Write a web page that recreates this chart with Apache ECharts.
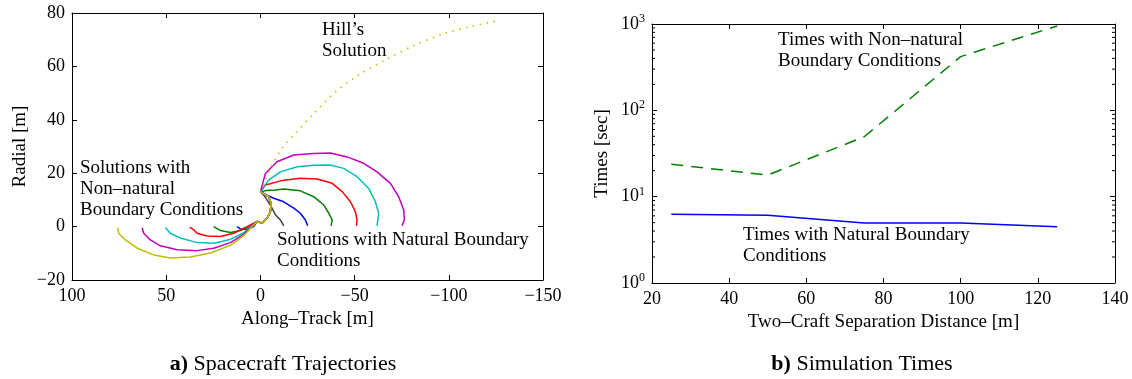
<!DOCTYPE html>
<html>
<head>
<meta charset="utf-8">
<script src="https://cdn.jsdelivr.net/npm/echarts@6/dist/echarts.min.js"></script>
<style>
  html, body { margin: 0; padding: 0; background: #fff; }
  #main { width: 1132px; height: 379px; }
</style>
</head>
<body>
<div id="main"></div>
<script>
// ---- a) trajectories, [along-track, radial] in metres ----
const hill = [[0, 13], [-2.65, 17.4], [-6.2, 23.0], [-11.5, 29.3], [-17.7, 34.3], [-28.3, 42.3], [-40.7, 51.0],
  [-53.1, 57.2], [-67.3, 62.8], [-81.4, 67.8], [-97.3, 72.2], [-111.5, 74.9], [-124.7, 76.9]];

const natGray = [[0, 13], [-1.8, 11.8], [-5.3, 8.1], [-8.0, 4.4], [-10.6, 2.5], [-12.4, 0.3]];
const natBlue = [[0, 13], [-3.5, 11.8], [-7.1, 10.6], [-12.4, 9.3], [-17.7, 6.9], [-21.2, 5.0], [-23.9, 2.5], [-25.1, 0.3]];
const natGreen = [[0, 13], [-3, 13.5], [-8.0, 13.7], [-12.4, 14.1], [-21.2, 13.4], [-28.3, 11.2], [-33.6, 8.1],
  [-36.3, 5.0], [-38.1, 2.5], [-37.5, 0.3]];
const natRed = [[0, 13], [-2.65, 15.6], [-12.4, 17.4], [-21.2, 18.1], [-30.1, 17.8], [-38.1, 16.2], [-43.4, 13.1],
  [-47.8, 9.3], [-50.4, 5.6], [-51.3, 2.5], [-51.0, 0.3]];
const natCyan = [[0, 13], [-4.4, 17.4], [-10.6, 20.5], [-19.5, 22.4], [-28.3, 23.0], [-37.2, 23.1], [-44.2, 21.8],
  [-51.3, 18.7], [-57.5, 14.3], [-61.0, 9.3], [-62.8, 5.0], [-61.9, 0.3]];
const natMagenta = [[0, 13], [-2.65, 19.9], [-8.8, 24.3], [-17.7, 26.8], [-28.3, 27.4], [-37.2, 27.6], [-46.0, 26.1],
  [-54.8, 23.7], [-61.9, 20.5], [-69.0, 16.2], [-73.4, 11.2], [-76.1, 6.2], [-76.4, 2.5], [-75.2, 0.3]];

// non-natural runs all share the same first hook below the start point
const bundle = [[0, 13], [-4.4, 11.2], [-5.7, 8.7], [-5.3, 5.6], [-3.5, 3.1], [-0.9, 1.3], [1.8, 1.9]];
const nonBlue = [[3.6, 0], [7.1, -1.0], [10.6, -0.9], [12.4, 0]];
const nonGreen = [[5.3, 0], [10.6, -1.5], [15.9, -2.2], [21.2, -1.5], [24.8, 0]];
const nonRed = [[7.1, 0], [14.2, -2.5], [21.2, -3.7], [28.3, -3.5], [33.6, -2.5], [35.4, -1.2], [37.5, -0.2]];
const nonCyan = [[8.9, -2.3], [15.9, -4.8], [24.8, -6.2], [33.6, -6.0], [42.5, -4.3], [47.8, -2.5], [50.4, -0.4]];
const nonMagenta = [[8.9, -2.9], [15.9, -6.0], [24.8, -8.1], [33.6, -9.0], [44.2, -8.7], [53.1, -7.2], [58.4, -5.0],
  [61.9, -2.5], [62.8, -0.4]];
const nonYellow = [[8.9, -3.4], [15.9, -7.0], [26.5, -9.9], [37.2, -11.4], [47.8, -11.8], [56.6, -10.6], [65.4, -8.1],
  [71.7, -5.0], [75.2, -2.5], [75.7, -0.4]];

// ---- b) simulation times ----
const distances = [25, 50, 75, 100, 125];
const timesNatural = [6.27, 6.1, 4.97, 4.97, 4.47];
const timesNonNatural = [23.8, 17.8, 49.4, 419, 950];
const minorLogTicks = [2, 3, 4, 5, 6, 7, 8, 9, 20, 30, 40, 50, 60, 70, 80, 90, 200, 300, 400, 500, 600, 700, 800, 900];

const FONT = '"Liberation Serif", "Times New Roman", serif';
const chart = echarts.init(document.getElementById('main'));

function frameAxis(extra) {
  return Object.assign({
    axisLine: { show: true, onZero: false, lineStyle: { color: '#000', width: 1 } },
    axisTick: { show: true, inside: true, length: 5, lineStyle: { color: '#000' } },
    splitLine: { show: false },
    axisLabel: { show: false }
  }, extra);
}
const tickLabel = { show: true, color: '#000', fontFamily: FONT, fontSize: 18, margin: 7,
  formatter: v => String(v).replace('-', '−') };
const nameStyle = { color: '#000', fontFamily: FONT, fontSize: 19 };

function traj(data, color) {
  return { type: 'line', xAxisIndex: 0, yAxisIndex: 0, data: data, showSymbol: false, smooth: false,
    lineStyle: { color: color, width: 1.5 }, silent: true, z: 3 };
}

const xA = { type: 'value', min: -150, max: 100, interval: 50, inverse: true };
const yA = { type: 'value', min: -20, max: 80, interval: 20 };
const xB = { type: 'value', min: 20, max: 140, interval: 20 };
const yB = { type: 'log', logBase: 10, min: 1, max: 1000 };

chart.setOption({
  animation: false,
  backgroundColor: '#fff',
  grid: [
    { left: 72, top: 13, width: 471, height: 267 },
    { left: 652, top: 24, width: 463, height: 259 }
  ],
  xAxis: [
    frameAxis(Object.assign({}, xA, { gridIndex: 0, position: 'bottom', axisLabel: tickLabel,
      name: 'Along–Track [m]', nameLocation: 'middle', nameGap: 26, nameTextStyle: nameStyle })),
    frameAxis(Object.assign({}, xA, { gridIndex: 0, position: 'top' })),
    frameAxis(Object.assign({}, xB, { gridIndex: 1, position: 'bottom', axisLabel: tickLabel,
      name: 'Two–Craft Separation Distance [m]', nameLocation: 'middle', nameGap: 26, nameTextStyle: nameStyle })),
    frameAxis(Object.assign({}, xB, { gridIndex: 1, position: 'top' }))
  ],
  yAxis: [
    frameAxis(Object.assign({}, yA, { gridIndex: 0, position: 'left', axisLabel: tickLabel,
      name: 'Radial [m]', nameLocation: 'middle', nameGap: 42, nameTextStyle: nameStyle })),
    frameAxis(Object.assign({}, yA, { gridIndex: 0, position: 'right' })),
    frameAxis(Object.assign({}, yB, { gridIndex: 1, position: 'left',
      axisLabel: Object.assign({}, tickLabel, {
        formatter: function (v) { return '10{sup|' + Math.round(Math.log10(v)) + '}'; },
        lineHeight: 22,
        rich: { sup: { fontFamily: FONT, fontSize: 12, verticalAlign: 'top', lineHeight: 12, color: '#000' } }
      }),
      name: 'Times [sec]', nameLocation: 'middle', nameGap: 40, nameTextStyle: nameStyle })),
    frameAxis(Object.assign({}, yB, { gridIndex: 1, position: 'right' }))
  ],
  series: [
    { type: 'line', xAxisIndex: 0, yAxisIndex: 0, data: hill, showSymbol: false, smooth: 0.3,
      lineStyle: { color: '#c8c000', width: 1.6, type: [1.5, 5.5] }, silent: true, z: 4 },
    traj(natGray, '#404040'),
    traj(natBlue, '#0000ff'),
    traj(natGreen, '#008000'),
    traj(natRed, '#ff0000'),
    traj(natCyan, '#00bfbf'),
    traj(natMagenta, '#bf00bf'),
    traj(bundle.concat(nonBlue), '#0000ff'),
    traj(bundle.concat(nonGreen), '#008000'),
    traj(bundle.concat(nonRed), '#ff0000'),
    traj(bundle.concat(nonCyan), '#00bfbf'),
    traj(bundle.concat(nonMagenta), '#bf00bf'),
    traj(bundle.concat(nonYellow), '#bfbf00'),
    { type: 'line', xAxisIndex: 2, yAxisIndex: 2, showSymbol: false, silent: true,
      data: distances.map((d, i) => [d, timesNatural[i]]),
      lineStyle: { color: '#0000ff', width: 1.5 } },
    { type: 'line', xAxisIndex: 2, yAxisIndex: 2, showSymbol: false, silent: true,
      data: distances.map((d, i) => [d, timesNonNatural[i]]),
      lineStyle: { color: '#008000', width: 1.5, type: [12, 8] } },
    // log minor ticks on both vertical edges, like MATLAB's box
    { type: 'custom', xAxisIndex: 2, yAxisIndex: 2, silent: true, clip: false,
      data: minorLogTicks.map(v => [xB.min, v]),
      renderItem: function (params, api) {
        const v = api.value(1);
        const l = api.coord([xB.min, v]);
        const r = api.coord([xB.max, v]);
        return { type: 'group', children: [
          { type: 'line', shape: { x1: l[0], y1: l[1], x2: l[0] + 3, y2: l[1] }, style: { stroke: '#000', lineWidth: 1 } },
          { type: 'line', shape: { x1: r[0], y1: r[1], x2: r[0] - 3, y2: r[1] }, style: { stroke: '#000', lineWidth: 1 } }
        ] };
      } }
  ],
  graphic: [
    { type: 'text', style: { text: 'Hill’s\nSolution', x: 322, y: 20, font: '19px ' + FONT, fill: '#000', lineHeight: 21 } },
    { type: 'text', style: { text: 'Solutions with\nNon–natural\nBoundary Conditions', x: 80, y: 157.5, font: '19px ' + FONT, fill: '#000', lineHeight: 21 } },
    { type: 'text', style: { text: 'Solutions with Natural Boundary\nConditions', x: 277, y: 229.5, font: '19px ' + FONT, fill: '#000', lineHeight: 21 } },
    { type: 'text', style: { text: 'Times with Non–natural\nBoundary Conditions', x: 778, y: 29.5, font: '19px ' + FONT, fill: '#000', lineHeight: 21 } },
    { type: 'text', style: { text: 'Times with Natural Boundary\nConditions', x: 743, y: 224.5, font: '19px ' + FONT, fill: '#000', lineHeight: 21 } },
    { type: 'text', style: { text: '{b|a)} Spacecraft Trajectories', x: 283, y: 364, align: 'center', verticalAlign: 'middle',
      font: '22px ' + FONT, fill: '#000', rich: { b: { fontFamily: FONT, fontSize: 22, fontWeight: 'bold', fill: '#000' } } } },
    { type: 'text', style: { text: '{b|b)} Simulation Times', x: 862, y: 364, align: 'center', verticalAlign: 'middle',
      font: '22px ' + FONT, fill: '#000', rich: { b: { fontFamily: FONT, fontSize: 22, fontWeight: 'bold', fill: '#000' } } } }
  ]
});
</script>
</body>
</html>
